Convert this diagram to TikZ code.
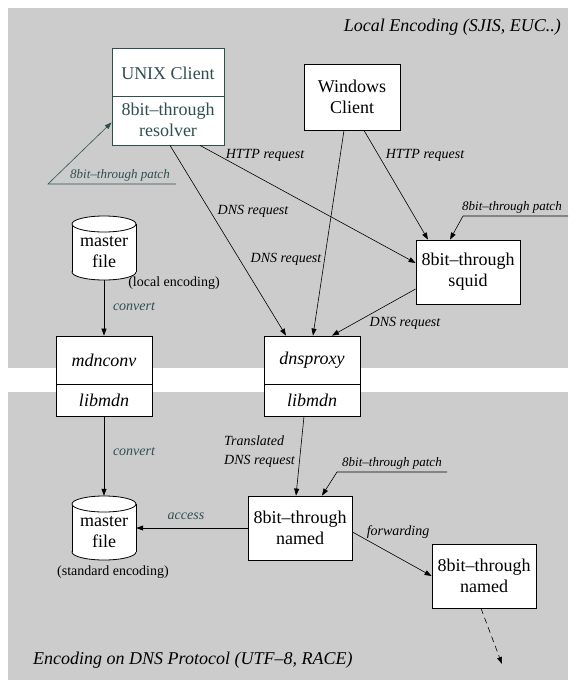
\documentclass[tikz,border=0pt]{standalone}
\usepackage{fontspec}
\setmainfont{Liberation Serif}
\usetikzlibrary{arrows.meta,calc}
\definecolor{dks}{HTML}{2F4F4F}
\definecolor{panel}{gray}{0.8}
\begin{document}
\begin{tikzpicture}[x=1pt,y=-1pt,
  big/.style={font=\fontsize{18}{21}\selectfont, align=center, inner sep=0pt},
  bigit/.style={font=\fontsize{18}{21}\selectfont\itshape, inner sep=0pt},
  lbl/.style={font=\fontsize{14}{19}\selectfont\itshape, inner sep=0pt},
  plbl/.style={font=\fontsize{13}{15}\selectfont\itshape, inner sep=0pt},
  box/.style={draw, fill=white, line width=0.8pt, inner sep=0pt, big},
  arr/.style={-{Triangle[length=7pt,width=5pt]}, line width=0.6pt},
  cylbody/.style={inner sep=0pt, minimum width=64, minimum height=64},
  cyl/.pic={
    \filldraw[fill=white, line width=0.8pt] (0,24) ellipse [x radius=32pt, y radius=8pt];
    \fill[white] (-32,-24) rectangle (32,24);
    \draw[line width=0.8pt] (-32,-24) -- (-32,24) (32,-24) -- (32,24);
    \filldraw[fill=white, line width=0.8pt] (0,-24) ellipse [x radius=32pt, y radius=8pt];
  }]
\useasboundingbox (0,0) rectangle (577,689);
\fill[white] (0,0) rectangle (577,689);
\fill[panel] (8,8) rectangle (568,368);
\fill[panel] (8,392) rectangle (568,680);

\node[bigit, anchor=east] (t1) at (561,27) {Local Encoding (SJIS, EUC..)};
\node[bigit, anchor=west] (t2) at (33,660) {Encoding on DNS Protocol (UTF--8, RACE)};

% UNIX client
\node[box, draw=dks, minimum width=112, minimum height=97] (unix) at (168,96.5) {};
\draw[dks, line width=0.8pt] (112,96) -- (224,96);
\node[big, text=dks] (unixa) at (168,73) {UNIX Client};
\node[big, text=dks] (unixb) at (168,120) {8bit--through\\resolver};

% Windows client
\node[box, minimum width=96, minimum height=66] (win) at (352,97) {Windows\\Client};

% squid
\node[box, minimum width=104, minimum height=64] (squid) at (468,272) {8bit--through\\squid};

% mdnconv
\node[box, minimum width=96, minimum height=80] (mdn) at (104,376) {};
\draw[line width=0.8pt] (56,384) -- (152,384);
\node[bigit] (mdna) at (104,360) {mdnconv};
\node[bigit] (mdnb) at (104,400) {libmdn};

% dnsproxy
\node[box, minimum width=96, minimum height=80] (dns) at (312,376) {};
\draw[line width=0.8pt] (264,384) -- (360,384);
\node[bigit] (dnsa) at (312,360) {dnsproxy};
\node[bigit] (dnsb) at (312,400) {libmdn};

% master files
\pic at (104,248) {cyl};
\node[cylbody] (mf1) at (104,248) {};
\node[big] (mf1t) at (104,252) {master\\file};
\pic at (104,528) {cyl};
\node[cylbody] (mf2) at (104,528) {};
\node[big] (mf2t) at (104,532) {master\\file};

% named
\node[box, minimum width=104, minimum height=64] (named1) at (300,528) {8bit--through\\named};
\node[box, minimum width=104, minimum height=64] (named2) at (484,576) {8bit--through\\named};

% coordinates
\coordinate (sp0) at (568,216);
\coordinate (sp1) at (463,216);
\coordinate (up0) at (176,184);
\coordinate (up1) at (48,184);
\coordinate (np0) at (447,472);
\coordinate (np1) at (337,472);
\coordinate (dend) at (502,664);

% connectors
\draw[arr] ([xshift=2]unix.south) -- ([xshift=-26]dns.north);
\draw[arr] ([xshift=32]unix.south) -- ([yshift=9]squid.west);
\draw[arr] ([xshift=-8]win.south) -- ([xshift=1]dns.north);
\draw[arr] ([xshift=12]win.south) -- ([xshift=-40]squid.north);
\draw[arr] ([yshift=-17]squid.west) -- ([xshift=20]dns.north);
\draw[arr] (sp0) -- (sp1) -- ([xshift=-18]squid.north);
\draw[arr, dks] (up0) -- (up1) -- ([yshift=23]unix.south west);
\draw[arr] (mf1.south) -- (mdn.north);
\draw[arr] (mdn.south) -- (mf2.north);
\draw[arr] ([xshift=-8]dns.south) -- ([xshift=-4]named1.north);
\draw[arr] (np0) -- (np1) -- ([xshift=22]named1.north);
\draw[arr] (named1.west) -- (mf2.east);
\draw[arr] ([yshift=-4]named1.east) -- (named2.west);
\draw[arr, dash pattern=on 6pt off 4pt] ([xshift=-3]named2.south) -- (dend);

% labels
\node[lbl] (l1) at (265,155) {HTTP request};
\node[lbl] (l2) at (425,155) {HTTP request};
\node[lbl] (l3) at (253,211) {DNS request};
\node[lbl] (l4) at (286,259) {DNS request};
\node[plbl] (l5) at (512,207) {8bit--through patch};
\node[lbl] (l6) at (405,323) {DNS request};
\node[plbl, text=dks] (l7) at (120,175) {8bit--through patch};
\node[font=\fontsize{14}{16}\selectfont, inner sep=0pt] (l8) at (174,283) {(local encoding)};
\node[lbl, text=dks] (l9) at (134,307) {convert};
\node[lbl, text=dks] (l10) at (134,452) {convert};
\node[lbl, align=left, anchor=west] (l11) at (224,452) {Translated\\DNS request};
\node[plbl] (l12) at (392,463) {8bit--through patch};
\node[lbl, text=dks] (l13) at (186,516) {access};
\node[lbl] (l14) at (398,532) {forwarding};
\node[font=\fontsize{14}{16}\selectfont, inner sep=0pt] (l15) at (113,572) {(standard encoding)};
\end{tikzpicture}
\end{document}
